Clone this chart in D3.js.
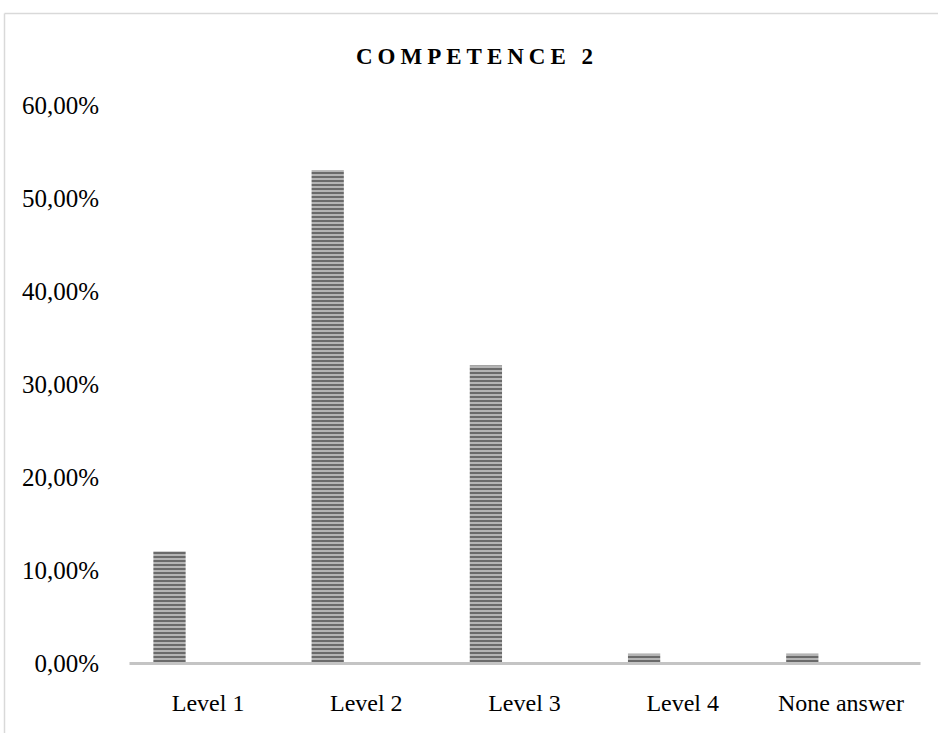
<!DOCTYPE html>
<html>
<head>
<meta charset="utf-8">
<script src="https://cdn.jsdelivr.net/npm/d3@7/dist/d3.min.js"></script>
<style>
  html, body { margin: 0; padding: 0; background: #fff; }
  svg { display: block; font-family: "Liberation Serif", "DejaVu Serif", serif; }
</style>
</head>
<body>
<svg id="chart" width="938" height="733"></svg>
<script>
// Share of respondents per competence level
const categories = ["Level 1", "Level 2", "Level 3", "Level 4", "None answer"];
const values = [0.12, 0.53, 0.32, 0.01, 0.01];
const yTicks = [0, 0.1, 0.2, 0.3, 0.4, 0.5, 0.6];
const title = "COMPETENCE 2";

const W = 938, H = 733;
const plot = { left: 129, right: 920, top: 105, bottom: 663 };

const svg = d3.select("#chart");

// Horizontal stripe fill for the bars
const defs = svg.append("defs");
const pat = defs.append("pattern")
  .attr("id", "stripes")
  .attr("patternUnits", "userSpaceOnUse")
  .attr("width", 4).attr("height", 4);
pat.append("rect").attr("width", 4).attr("height", 4).attr("fill", "#b4b4b4");
pat.append("rect").attr("y", 0).attr("width", 4).attr("height", 2).attr("fill", "#6a6a6a");

// Chart frame (top and left edges visible)
svg.append("line")
  .attr("x1", 4.5).attr("x2", W).attr("y1", 13.5).attr("y2", 13.5)
  .attr("stroke", "#d9d9d9").attr("stroke-width", 1.5);
svg.append("line")
  .attr("x1", 4.5).attr("x2", 4.5).attr("y1", 13.5).attr("y2", H)
  .attr("stroke", "#d9d9d9").attr("stroke-width", 1.5);

// Title
svg.append("text")
  .attr("x", 477).attr("y", 64)
  .attr("text-anchor", "middle")
  .attr("font-size", 23)
  .attr("font-weight", "bold")
  .attr("letter-spacing", 5)
  .attr("fill", "#000")
  .text(title);

const x = d3.scaleBand().domain(categories).range([plot.left, plot.right]);
const y = d3.scaleLinear().domain([0, 0.6]).range([plot.bottom, plot.top]);

const locale = d3.formatLocale({ decimal: ",", thousands: ".", grouping: [3], currency: ["", "€"] });
const pct = locale.format(".2%");

// Y axis: labels only
const yAxis = d3.axisLeft(y).tickValues(yTicks).tickFormat(pct).tickSize(0).tickPadding(0);
const gy = svg.append("g").attr("transform", "translate(99,0)").call(yAxis);
gy.select(".domain").remove();
gy.selectAll("text")
  .attr("font-family", "Liberation Serif, serif")
  .attr("font-size", 25)
  .attr("fill", "#000")
  .attr("dy", "0.35em");

// Bars
const bw = x.bandwidth();
svg.append("g").selectAll("rect")
  .data(values)
  .join("rect")
  .attr("x", (d, i) => x(categories[i]) + bw * 0.154)
  .attr("width", bw * 0.204)
  .attr("y", d => y(d))
  .attr("height", d => y(0) - y(d))
  .attr("fill", "url(#stripes)");

// X axis baseline and category labels
const xAxis = d3.axisBottom(x).tickSize(0).tickPadding(0);
const gx = svg.append("g").attr("transform", `translate(0,${plot.bottom})`).call(xAxis);
gx.select(".domain").attr("stroke", "#c4c4c4").attr("stroke-width", 3);
gx.selectAll("text")
  .attr("font-family", "Liberation Serif, serif")
  .attr("font-size", 24)
  .attr("fill", "#000")
  .attr("y", 48)
  .attr("dy", 0);
</script>
</body>
</html>
